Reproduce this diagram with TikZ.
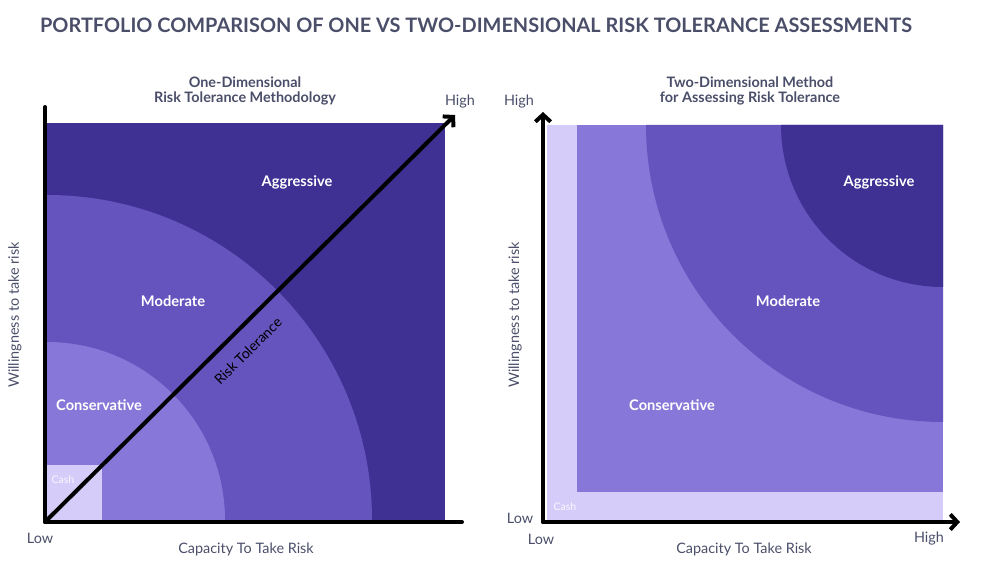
\documentclass[tikz,border=0pt]{standalone}
\usepackage{fontspec}
\setmainfont{Lato}
\usetikzlibrary{arrows.meta}
\definecolor{aggr}{HTML}{3F3193}
\definecolor{mod}{HTML}{6553BE}
\definecolor{cons}{HTML}{8777D8}
\definecolor{cashc}{HTML}{D5CCFA}
\definecolor{ink}{HTML}{4A4E69}
\begin{document}
\begin{tikzpicture}[x=0.03cm, y=0.03cm]
  \tikzstyle{axis} = [line width=3.4pt, line cap=round, line join=round, black];
  \tikzstyle{arrow_axis} = [axis, -{Straight Barb[length=6pt, width=13pt]}];
  \tikzstyle{zone} = [text=white, font=\bfseries\fontsize{12.5}{15}\selectfont];
  \tikzstyle{cash_label} = [text=white, opacity=0.85, font=\fontsize{9}{11}\selectfont];
  \tikzstyle{axis_label} = [text=ink, font=\fontsize{12.3}{14}\selectfont];
  \tikzstyle{sub_title} = [text=ink, align=center, font=\bfseries\fontsize{12.3}{13.5}\selectfont];

  \useasboundingbox (0, 0) rectangle (988, 568);

  \node[text=ink, font=\bfseries\fontsize{17}{20}\selectfont] (title) at (476, 543)
    {PORTFOLIO COMPARISON OF ONE VS TWO-DIMENSIONAL RISK TOLERANCE ASSESSMENTS};

  \fill[aggr] (47, 48) rectangle (445, 445);
  \fill[mod]  (47, 48) -- (372, 48) arc[start angle=0, end angle=90, radius=325] -- cycle;
  \fill[cons] (47, 48) -- (225, 48) arc[start angle=0, end angle=90, radius=178] -- cycle;
  \fill[cashc] (47, 48) rectangle (102, 103);

  \coordinate (originL) at (45, 46);
  \coordinate (topL)    at (45, 461);
  \coordinate (rightL)  at (462, 46);
  \coordinate (highL)   at (455, 453);

  \draw[axis] (topL) -- (originL) -- (rightL);
  \draw[arrow_axis] (originL) -- (highL);

  \node[sub_title] (subL) at (245, 477) {One-Dimensional\\Risk Tolerance Methodology};
  \node[axis_label] (highLabelL) at (460, 466) {High};
  \node[axis_label] (lowL) at (40, 30) {Low};
  \node[axis_label] (capL) at (246, 19) {Capacity To Take Risk};
  \node[axis_label, rotate=90] (willL) at (15, 253) {Willingness to take risk};
  \node[zone] (aggrL) at (297, 386) {Aggressive};
  \node[zone] (modL)  at (173, 267) {Moderate};
  \node[zone] (consL) at (99, 163) {Conservative};
  \node[cash_label] (cashL) at (63, 88) {Cash};
  \node[rotate=44.6, font=\fontsize{12}{14}\selectfont, inner sep=0pt] (tolL) at (248, 217) {Risk Tolerance};

  \fill[cashc] (547, 48) rectangle (943, 443);
  \fill[cons]  (577, 76) rectangle (943, 443);
  \fill[mod]  (943, 443) -- (646, 443) arc[start angle=180, end angle=270, radius=297] -- cycle;
  \fill[aggr] (943, 443) -- (781, 443) arc[start angle=180, end angle=270, radius=162] -- cycle;

  \coordinate (originR) at (543, 46);
  \coordinate (topR)    at (543, 456);
  \coordinate (rightR)  at (960, 46);

  \draw[arrow_axis] (originR) -- (topR);
  \draw[arrow_axis] (originR) -- (rightR);

  \node[sub_title] (subR) at (750, 477) {Two-Dimensional Method\\for Assessing Risk Tolerance};
  \node[axis_label] (highLabelR) at (519, 466) {High};
  \node[axis_label] (lowSideR) at (520, 50) {Low};
  \node[axis_label] (lowR) at (541, 29) {Low};
  \node[axis_label] (highR) at (929, 29) {High};
  \node[axis_label] (capR) at (744, 19) {Capacity To Take Risk};
  \node[axis_label, rotate=90] (willR) at (515, 253) {Willingness to take risk};
  \node[zone] (aggrR) at (879, 386) {Aggressive};
  \node[zone] (modR)  at (788, 267) {Moderate};
  \node[zone] (consR) at (672, 163) {Conservative};
  \node[cash_label] (cashR) at (565, 61) {Cash};
\end{tikzpicture}
\end{document}
